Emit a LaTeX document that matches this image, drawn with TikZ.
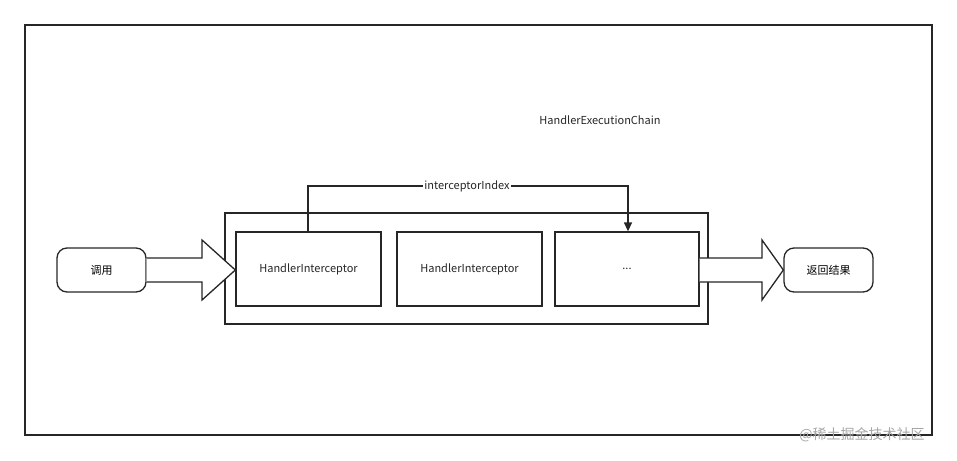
\documentclass[tikz,border=0pt]{standalone}
\usepackage{fontspec}
\setmainfont{Noto Sans CJK SC}
\usetikzlibrary{arrows.meta}
\begin{document}
\begin{tikzpicture}[x=1pt,y=-1pt,
  bx/.style={draw=black!85,line width=1.3pt},
  lbl/.style={font=\fontsize{11}{13}\selectfont,text=black!85},
  term/.style={draw=black!85,line width=1.3pt,rounded corners=10pt,minimum width=89pt,minimum height=44pt,font=\fontsize{11}{13}\selectfont},
  blk/.style={draw=black!85,line width=1.3pt,fill=white}]
\useasboundingbox (0,0) rectangle (957,460);
\draw[line width=1.3pt,draw=black!85] (25,25) rectangle (932,435);
\node[lbl] (title) at (600,120) {HandlerExecutionChain};
\draw[bx] (225,213) rectangle (708,324);
\node[bx,minimum width=145pt,minimum height=74pt,lbl] (h1) at (308.5,269) {HandlerInterceptor};
\node[bx,minimum width=145pt,minimum height=74pt,lbl] (h2) at (469.5,269) {HandlerInterceptor};
\node[bx,minimum width=144pt,minimum height=74pt,lbl] (h3) at (627,269) {...};
\node[term] (call) at (101.5,270) {调用};
\node[term] (ret) at (828.5,270) {返回结果};
\draw[blk] (call.east |- 0,258) -- (202,258) -- (202,240) -- (h1.west |- 0,270) -- (202,300) -- (202,282) -- (call.east |- 0,282);
\draw[blk] (h3.east |- 0,258) -- (762,258) -- (762,240) -- (ret.west |- 0,270) -- (762,300) -- (762,282) -- (h3.east |- 0,282);
\coordinate (a) at (308,186);
\coordinate (b) at (628,186);
\draw[line width=1.3pt,draw=black!85,-{Triangle[length=9pt,width=8pt]}] (h1.north -| a) -- (a) -- (b) -- (h3.north -| b);
\node[lbl,fill=white,inner sep=1pt] (idx) at (467,186) {interceptorIndex};
\node[font=\fontsize{14}{16}\selectfont,text=black!35] (wm) at (862,435) {@稀土掘金技术社区};
\end{tikzpicture}
\end{document}
